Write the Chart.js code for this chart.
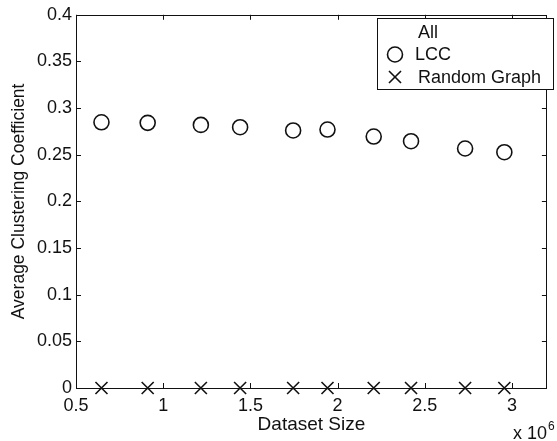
<!DOCTYPE html>
<html>
<head>
<meta charset="utf-8">
<script src="https://cdn.jsdelivr.net/npm/chart.js@4"></script>
<style>
html, body { margin: 0; padding: 0; background: #fff; }
</style>
</head>
<body>
<canvas id="js--chart" width="557" height="441"></canvas>
<script>
// values, x in units of 10^6
const datasetSize = [0.646, 0.911, 1.216, 1.441, 1.745, 1.942, 2.207, 2.421, 2.731, 2.956]
const allCoeff = []
const lccCoeff = [0.2848, 0.2842, 0.2820, 0.2795, 0.2760, 0.2770, 0.2695, 0.2645, 0.2567, 0.2527]
const randomCoeff = [0, 0, 0, 0, 0, 0, 0, 0, 0, 0]
const seriesNames = ["All", "LCC", "Random Graph"]
const xTicks = [0.5, 1, 1.5, 2, 2.5, 3]
const yTicks = [0, 0.05, 0.1, 0.15, 0.2, 0.25, 0.3, 0.35, 0.4]

const FONT = "'Liberation Sans', Arial, sans-serif"
const INK = "#111"

const toPoints = (ys) => ys.map((y, i) => ({ x: datasetSize[i], y: y }))

// box, inward ticks, legend and the exponent label
const matlabFrame = {
    id: "matlabFrame",
    beforeDatasetsDraw(chart) {
        const c = chart.ctx
        const a = chart.chartArea
        const sx = chart.scales.x
        const sy = chart.scales.y
        const tl = 5
        c.save()
        c.strokeStyle = INK
        c.lineWidth = 1
        c.strokeRect(Math.round(a.left) + 0.5, Math.round(a.top) + 0.5, Math.round(a.right - a.left) - 1, Math.round(a.bottom - a.top))
        c.beginPath()
        xTicks.forEach(v => {
            const px = Math.round(sx.getPixelForValue(v)) + 0.5
            c.moveTo(px, a.bottom); c.lineTo(px, a.bottom - tl)
            c.moveTo(px, a.top); c.lineTo(px, a.top + tl)
        })
        yTicks.forEach(v => {
            const py = Math.round(sy.getPixelForValue(v)) + 0.5
            c.moveTo(a.left, py); c.lineTo(a.left + tl, py)
            c.moveTo(a.right, py); c.lineTo(a.right - tl, py)
        })
        c.stroke()
        c.restore()
    },
    afterDatasetsDraw(chart) {
        const c = chart.ctx
        c.save()
        // legend
        c.fillStyle = "#fff"
        c.fillRect(377, 18, 176, 71)
        c.strokeStyle = INK
        c.lineWidth = 1
        c.strokeRect(377.5, 18.5, 176, 71)
        c.font = "18px " + FONT
        c.textBaseline = "middle"
        c.textAlign = "left"
        chart.data.datasets.forEach((ds, i) => {
            const y = 32 + i * 22.5
            if (ds.pointRadius > 0) {
                c.strokeStyle = INK
                c.fillStyle = "rgba(0,0,0,0)"
                c.lineWidth = ds.borderWidth
                Chart.helpers.drawPoint(c, { pointStyle: ds.pointStyle, radius: ds.pointRadius, borderWidth: ds.borderWidth, rotation: 0 }, 395, y)
            }
            c.fillStyle = INK
            c.fillText(ds.label, i === 1 ? 415 : 418, y + 1)
        })
        // x 10^6
        c.font = "18px " + FONT
        c.fillText("x 10", 513, 434)
        c.font = "12px " + FONT
        c.fillText("6", 548, 427)
        c.restore()
    }
}

const ctx = document.getElementById("js--chart")

const data = {
    datasets: [
        {
            label: seriesNames[0],
            data: toPoints(allCoeff),
            pointRadius: 0,
            borderColor: INK,
            borderWidth: 1.6,
            showLine: false,
        },
        {
            label: seriesNames[1],
            data: toPoints(lccCoeff),
            pointStyle: "circle",
            pointRadius: 7.5,
            pointHoverRadius: 7.5,
            borderColor: INK,
            backgroundColor: "rgba(0,0,0,0)",
            borderWidth: 1.6,
            clip: false,
        },
        {
            label: seriesNames[2],
            data: toPoints(randomCoeff),
            pointStyle: "crossRot",
            pointRadius: 8.5,
            pointHoverRadius: 8.5,
            borderColor: INK,
            backgroundColor: "rgba(0,0,0,0)",
            borderWidth: 1.6,
            clip: false,
        },
    ]
}

const config = {
    type: "scatter",
    data: data,
    options: {
        responsive: false,
        animation: false,
        devicePixelRatio: 1,
        layout: { padding: { left: 9, right: 2, top: 14, bottom: 5 } },
        plugins: {
            legend: { display: false },
            tooltip: { enabled: false },
        },
        scales: {
            x: {
                type: "linear",
                min: 0.5,
                max: 3.2,
                afterBuildTicks: (s) => { s.ticks = xTicks.map(v => ({ value: v })) },
                afterFit: (s) => { s.height = 48 },
                grid: { display: false, drawTicks: false },
                border: { display: false },
                ticks: {
                    color: INK,
                    font: { family: FONT, size: 18 },
                    padding: 7,
                    maxRotation: 0,
                    autoSkip: false,
                    callback: (v) => String(v),
                },
                title: {
                    display: true,
                    text: "Dataset Size",
                    color: INK,
                    font: { family: FONT, size: 19 },
                    padding: 0,
                },
            },
            y: {
                type: "linear",
                min: 0,
                max: 0.4,
                afterBuildTicks: (s) => { s.ticks = yTicks.map(v => ({ value: v })) },
                afterFit: (s) => { s.width = 67 },
                grid: { display: false, drawTicks: false },
                border: { display: false },
                ticks: {
                    color: INK,
                    font: { family: FONT, size: 18 },
                    padding: 4,
                    autoSkip: false,
                    callback: (v) => String(+v.toFixed(2)),
                },
                title: {
                    display: true,
                    text: "Average Clustering Coefficient",
                    color: INK,
                    font: { family: FONT, size: 17.5 },
                    padding: 0,
                },
            },
        },
    },
    plugins: [matlabFrame],
}

new Chart(ctx, config)
</script>
</body>
</html>
